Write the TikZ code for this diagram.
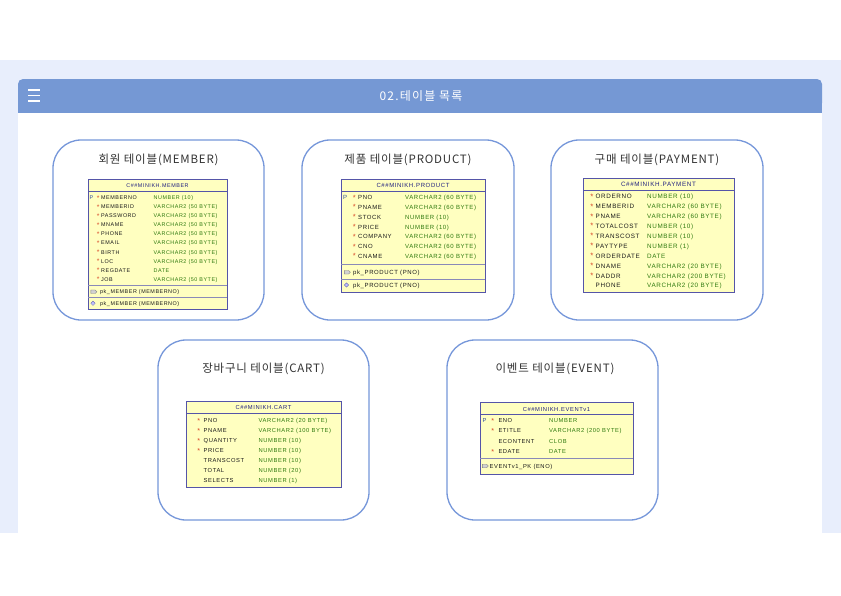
\documentclass[tikz,border=0pt]{standalone}
\usepackage{fontspec}
\setmainfont{Liberation Sans}
\newfontfamily\krfont[LetterSpace=7]{Noto Sans CJK KR}
\newfontfamily\krwidefont[LetterSpace=10]{Noto Sans CJK KR}
\newfontfamily\tabfont[LetterSpace=10]{Liberation Sans}
\usetikzlibrary{
    shapes.geometric,
    shapes.symbols
}

\definecolor{bandblue}{HTML}{E8EEFC}
\definecolor{headblue}{HTML}{7598D4}
\definecolor{panelblue}{HTML}{7697DA}
\definecolor{titlegray}{HTML}{333333}
\definecolor{tablefill}{HTML}{FFFFC0}
\definecolor{tableedge}{HTML}{5555A8}
\definecolor{sepblue}{HTML}{8A8AB8}
\definecolor{headnavy}{HTML}{202080}
\definecolor{namegray}{HTML}{1A1A1A}
\definecolor{typegreen}{HTML}{2F7A0F}
\definecolor{starred}{HTML}{D84A2A}
\definecolor{keyblue}{HTML}{3050A0}

\begin{document}
\begin{tikzpicture}[
    x=1pt, y=-1pt,
    panel/.style={draw=panelblue, line width=1.3pt, rounded corners=28pt},
    paneltitle/.style={font=\krfont\fontsize{11.5}{13}\selectfont, text=titlegray, inner sep=0pt},
    tabsize/.style={every node/.append style={font=\tabfont\fontsize{#1}{#1}\selectfont}},
    tablebox/.style={draw=tableedge, fill=tablefill, line width=0.6pt},
    headline/.style={draw=tableedge, line width=0.4pt},
    tablesep/.style={draw=sepblue, line width=1pt},
    cell/.style={inner sep=0pt, anchor=west, text height=4pt, text depth=0pt},
    headtext/.style={inner sep=0pt, text height=4pt, text depth=0pt, text=headnavy},
    keytext/.style={cell, text=keyblue},
    startext/.style={cell, text=starred, scale=1.25},
    nametext/.style={cell, text=namegray},
    typetext/.style={cell, text=typegreen},
    idxicon/.style={signal, signal to=east, draw=gray, fill=gray!35, line width=0.3pt,
      minimum width=6pt, minimum height=3.5pt, inner sep=0pt},
    keyicon/.style={diamond, draw=gray!70!blue, fill=blue!25, line width=0.3pt,
      minimum size=4.5pt, inner sep=0pt}
  ]

  \useasboundingbox (0,0) rectangle (841,595);

  % page frame {{{
  \fill[bandblue] (0,60) rectangle (841,533);
  \fill[white] (18,113) rectangle (822,533);
  \fill[headblue, rounded corners=5pt] (18,79) rectangle (822,108);
  \fill[headblue] (18,100) rectangle (822,113);
  \foreach \y in {90,95.5,101}
    \draw[white, line width=1.2pt] (28,\y) -- (40,\y);
  \node[font=\krwidefont\fontsize{12}{14}\selectfont, text=white, inner sep=0pt]
    (page-title) at (421,96) {02.테이블 목록};
  % }}}

  % panels {{{
  \draw[panel] (53,140) rectangle (264,320);
  \draw[panel] (302,140) rectangle (514,320);
  \draw[panel] (551,140) rectangle (763,320);
  \draw[panel] (158,340) rectangle (369,520);
  \draw[panel] (447,340) rectangle (658,520);

  \node[paneltitle] (member-title) at (158.5,160) {회원 테이블(MEMBER)};
  \node[paneltitle] (product-title) at (408,160) {제품 테이블(PRODUCT)};
  \node[paneltitle] (payment-title) at (657,160) {구매 테이블(PAYMENT)};
  \node[paneltitle] (cart-title) at (263.5,369) {장바구니 테이블(CART)};
  \node[paneltitle] (event-title) at (555,369) {이벤트 테이블(EVENT)};
  % }}}

  % MEMBER {{{
  \begin{scope}[shift={(88,179)}, tabsize=5.4]
    \draw[tablebox] (0,0) rectangle (139,130);
    \draw[headline] (0,12) -- (139,12);
    \node[headtext] (member-head) at (69.5,6) {C\#\#MINIKH.MEMBER};
    \node[keytext] (member-key) at (1.5,18.7) {P};
    \foreach \s/\n/\t [count=\i from 0] in {
        */MEMBERNO/NUMBER (10),
        */MEMBERID/VARCHAR2 (50 BYTE),
        */PASSWORD/VARCHAR2 (50 BYTE),
        */MNAME/VARCHAR2 (50 BYTE),
        */PHONE/VARCHAR2 (50 BYTE),
        */EMAIL/VARCHAR2 (50 BYTE),
        */BIRTH/VARCHAR2 (50 BYTE),
        */LOC/VARCHAR2 (50 BYTE),
        */REGDATE/DATE,
        */JOB/VARCHAR2 (50 BYTE)} {
      \node[startext] (member-s\i) at (8.5,18.7+9.05*\i) {\s};
      \node[nametext] (member-n\i) at (13,18.7+9.05*\i) {\n};
      \node[typetext] (member-t\i) at (65.5,18.7+9.05*\i) {\t};
    }
    \draw[tablesep] (0,106) -- (139,106);
    \node[idxicon] (member-idx) at (5,112.7) {};
    \node[nametext] (member-pk1) at (12,112.7) {pk\_MEMBER (MEMBERNO)};
    \draw[tablesep] (0,118) -- (139,118);
    \node[keyicon] (member-pkicon) at (5,124.3) {};
    \node[nametext] (member-pk2) at (12,124.3) {pk\_MEMBER (MEMBERNO)};
  \end{scope}
  % }}}

  % PRODUCT {{{
  \begin{scope}[shift={(341,179)}, tabsize=6]
    \draw[tablebox] (0,0) rectangle (144,113);
    \draw[headline] (0,12) -- (144,12);
    \node[headtext] (product-head) at (72,6) {C\#\#MINIKH.PRODUCT};
    \node[keytext] (product-key) at (2,18.7) {P};
    \foreach \s/\n/\t [count=\i from 0] in {
        */PNO/VARCHAR2 (60 BYTE),
        */PNAME/VARCHAR2 (60 BYTE),
        */STOCK/NUMBER (10),
        */PRICE/NUMBER (10),
        */COMPANY/VARCHAR2 (60 BYTE),
        */CNO/VARCHAR2 (60 BYTE),
        */CNAME/VARCHAR2 (60 BYTE)} {
      \node[startext] (product-s\i) at (11.5,18.7+9.77*\i) {\s};
      \node[nametext] (product-n\i) at (17,18.7+9.77*\i) {\n};
      \node[typetext] (product-t\i) at (64,18.7+9.77*\i) {\t};
    }
    \draw[tablesep] (0,85.3) -- (144,85.3);
    \node[idxicon] (product-idx) at (5.5,93.3) {};
    \node[nametext] (product-pk1) at (12,93.3) {pk\_PRODUCT (PNO)};
    \draw[tablesep] (0,100) -- (144,100);
    \node[keyicon] (product-pkicon) at (5.5,106) {};
    \node[nametext] (product-pk2) at (12,106) {pk\_PRODUCT (PNO)};
  \end{scope}
  % }}}

  % PAYMENT {{{
  \begin{scope}[shift={(583,178)}, tabsize=6.3]
    \draw[tablebox] (0,0) rectangle (151,114);
    \draw[headline] (0,12) -- (151,12);
    \node[headtext] (payment-head) at (75.5,6) {C\#\#MINIKH.PAYMENT};
    \foreach \s/\n/\t [count=\i from 0] in {
        */ORDERNO/NUMBER (10),
        */MEMBERID/VARCHAR2 (60 BYTE),
        */PNAME/VARCHAR2 (60 BYTE),
        */TOTALCOST/NUMBER (10),
        */TRANSCOST/NUMBER (10),
        */PAYTYPE/NUMBER (1),
        */ORDERDATE/DATE,
        */DNAME/VARCHAR2 (20 BYTE),
        */DADDR/VARCHAR2 (200 BYTE),
        {}/PHONE/VARCHAR2 (20 BYTE)} {
      \node[startext] (payment-s\i) at (7,18.7+9.92*\i) {\s};
      \node[nametext] (payment-n\i) at (12.5,18.7+9.92*\i) {\n};
      \node[typetext] (payment-t\i) at (64,18.7+9.92*\i) {\t};
    }
  \end{scope}
  % }}}

  % CART {{{
  \begin{scope}[shift={(186,401)}, tabsize=5.8]
    \draw[tablebox] (0,0) rectangle (155,86);
    \draw[headline] (0,12) -- (155,12);
    \node[headtext] (cart-head) at (77.5,6.5) {C\#\#MINIKH.CART};
    \foreach \s/\n/\t [count=\i from 0] in {
        */PNO/VARCHAR2 (20 BYTE),
        */PNAME/VARCHAR2 (100 BYTE),
        */QUANTITY/NUMBER (10),
        */PRICE/NUMBER (10),
        {}/TRANSCOST/NUMBER (10),
        {}/TOTAL/NUMBER (20),
        {}/SELECTS/NUMBER (1)} {
      \node[startext] (cart-s\i) at (11,19.5+10.07*\i) {\s};
      \node[nametext] (cart-n\i) at (17.5,19.5+10.07*\i) {\n};
      \node[typetext] (cart-t\i) at (72.5,19.5+10.07*\i) {\t};
    }
  \end{scope}
  % }}}

  % EVENT {{{
  \begin{scope}[shift={(480,402)}, tabsize=5.8]
    \draw[tablebox] (0,0) rectangle (153,72);
    \draw[headline] (0,12.5) -- (153,12.5);
    \node[headtext] (event-head) at (76.5,7) {C\#\#MINIKH.EVENTv1};
    \node[keytext] (event-key) at (2.3,18.5) {P};
    \foreach \s/\n/\t [count=\i from 0] in {
        */ENO/NUMBER,
        */ETITLE/VARCHAR2 (200 BYTE),
        {}/ECONTENT/CLOB,
        */EDATE/DATE} {
      \node[startext] (event-s\i) at (11.2,18.5+10.4*\i) {\s};
      \node[nametext] (event-n\i) at (18.3,18.5+10.4*\i) {\n};
      \node[typetext] (event-t\i) at (69,18.5+10.4*\i) {\t};
    }
    \draw[tablesep] (0,56.3) -- (153,56.3);
    \node[idxicon] (event-idx) at (4.5,64) {};
    \node[nametext] (event-pk1) at (9.5,64) {EVENTv1\_PK (ENO)};
  \end{scope}
  % }}}

\end{tikzpicture}
\end{document}
